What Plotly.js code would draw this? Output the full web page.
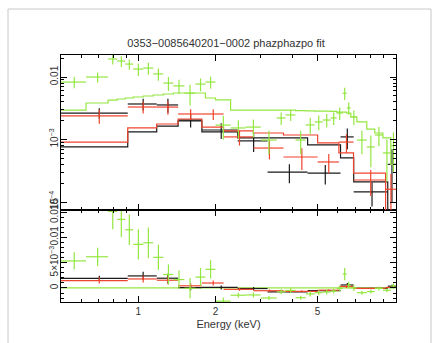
<!DOCTYPE html>
<html><head><meta charset="utf-8">
<script src="https://cdn.plot.ly/plotly-3.0.1.min.js"></script>
<style>html,body{margin:0;padding:0;background:#fff;}#chart{width:437px;height:343px;}</style>
</head><body><div id="chart"></div>
<script>
// ---- data (energy bin edges in keV, counts/s/keV) ----
const greenEdges = [0.5, 0.626, 0.763, 0.828, 0.89, 0.956, 1.046, 1.144, 1.252, 1.37, 1.513, 1.67, 1.827, 2.0, 2.29, 2.62, 3.0, 3.46, 3.75, 4.1, 4.49, 4.87, 5.23, 5.62, 5.93, 6.26, 6.49, 6.73, 7.11, 7.77, 8.35, 8.98, 9.64, 10.1];
const greenData = [0.0083, 0.0100, 0.0194, 0.0180, 0.0161, 0.0134, 0.0139, 0.0112, 0.0080, 0.0072, 0.0055, 0.0077, 0.0083, 0.0017, 0.00153, 0.00158, 0.00098, 0.00221, 0.00247, 0.00098, 0.00171, 0.00191, 0.00205, 0.00221, 0.00265, 0.0055, 0.0032, 0.0023, 0.00098, 0.00076, 0.00118, 0.00061, 0.0008];
const greenErr = [0.0017, 0.0018, 0.0035, 0.0035, 0.003, 0.003, 0.003, 0.0025, 0.002, 0.0018, 0.002, 0.0018, 0.0018, 0.0007, 0.0005, 0.0005, 0.0004, 0.0005, 0.0005, 0.0004, 0.0005, 0.0005, 0.0005, 0.0005, 0.0006, 0.0012, 0.0007, 0.0006, 0.0004, 0.0004, 0.0004, 0.0004, 0.0005];
const greenModel = [0.00296, 0.00384, 0.00428, 0.00445, 0.00461, 0.00479, 0.00497, 0.00515, 0.00535, 0.00555, 0.00555, 0.00555, 0.00461, 0.0043, 0.00296, 0.00296, 0.00296, 0.00296, 0.00296, 0.0029, 0.00288, 0.00285, 0.00285, 0.00282, 0.00275, 0.00275, 0.00265, 0.00229, 0.00191, 0.00147, 0.00127, 0.00106, 0.0004];

const blackEdges = [0.5, 0.91, 1.18, 1.43, 1.77, 2.44, 3.19, 4.57, 6.14, 6.91, 9.38, 10.1];
const blackData = [0.00265, 0.0037, 0.00357, 0.00205, 0.00142, 0.00095, 0.0003, 0.00029, 0.0011, 0.000145, 0.0004];
const blackErr = [0.0005, 0.0008, 0.0009, 0.0005, 0.0004, 0.00032, 0.0001, 0.0001, 0.0004, 0.00006, 0.0003];
const blackModel = [0.00076, 0.00132, 0.00164, 0.00198, 0.00132, 0.00106, 0.00106, 0.00082, 0.00051, 0.00021, 0.00005];

const redEdges = [0.5, 0.91, 1.18, 1.43, 1.77, 2.15, 2.81, 3.68, 5.0, 6.05, 6.9, 9.2, 10.1];
const redData = [0.00238, 0.00331, 0.0033, 0.00256, 0.00256, 0.0011, 0.00073, 0.000525, 0.000437, 0.00091, 0.000225, 0.00016];
const redErr = [0.0006, 0.0007, 0.0008, 0.0005, 0.0005, 0.0003, 0.00025, 0.0002, 0.00015, 0.0003, 0.0001, 0.00012];
const redModel = [0.00091, 0.00153, 0.00177, 0.00213, 0.00158, 0.00137, 0.00127, 0.00118, 0.00088, 0.00061, 0.00029, 0.00005];

const xTickVals = [1, 2, 5];
const xTickText = ['1', '2', '5'];
const xMinorVals = [0.6, 0.7, 0.8, 0.9, 3, 4, 6, 7, 8, 9];
const yTopTickVals = [1e-4, 1e-3, 1e-2];
const yTopTickText = ['10<sup>−4</sup>', '10<sup>−3</sup>', '0.01'];
const yTopMinor = [2e-4,3e-4,4e-4,5e-4,6e-4,7e-4,8e-4,9e-4,2e-3,3e-3,4e-3,5e-3,6e-3,7e-3,8e-3,9e-3,2e-2];
const yBotTickVals = [0, 0.005, 0.01, 0.015];
const yBotTickText = ['0', '5×10<sup>−3</sup>', '0.01', '0.015'];
const titleText = '0353−0085640201−0002 phazphazpo fit';

// ---- build traces ----
const COL = {black: '#1a1a1a', red: '#f0442e', green: '#94e640'};
const LW = 1.2;
function groupTraces(edges, data, err, model, color) {
  const lo = edges.slice(0, -1), hi = edges.slice(1);
  const c = lo.map((l, i) => (l + hi[i]) / 2);
  const ex = {type: 'data', symmetric: false, array: c.map((v, i) => hi[i] - v), arrayminus: c.map((v, i) => v - lo[i]), width: 0, thickness: LW, color: color};
  const ey = {type: 'data', array: err, width: 0, thickness: LW, color: color};
  const resid = data.map((d, i) => d - model[i]);
  return [
    {x: c, y: data, xaxis: 'x2', yaxis: 'y2', mode: 'markers', marker: {size: 1, color: color}, error_x: ex, error_y: ey, hoverinfo: 'skip'},
    {x: edges, y: model.concat([model[model.length - 1]]), xaxis: 'x2', yaxis: 'y2', mode: 'lines', line: {shape: 'hv', color: color, width: LW}, hoverinfo: 'skip'},
    {x: c, y: resid, xaxis: 'x', yaxis: 'y', mode: 'markers', marker: {size: 1, color: color}, error_x: ex, error_y: ey, hoverinfo: 'skip'}
  ];
}
const traces = [].concat(
  groupTraces(blackEdges, blackData, blackErr, blackModel, COL.black),
  groupTraces(redEdges, redData, redErr, redModel, COL.red),
  groupTraces(greenEdges, greenData, greenErr, greenModel, COL.green)
);

const FONT = 'Liberation Sans, Arial, Helvetica, sans-serif';
const botFrac = 92 / 247;
const xCommon = {
  type: 'log', range: [Math.log10(0.5), Math.log10(10.1)],
  tickmode: 'array', tickvals: xTickVals, ticktext: xTickText,
  ticks: 'inside', ticklen: 6, tickwidth: 1, tickcolor: '#000',
  showline: true, linecolor: '#000', linewidth: 1, mirror: 'ticks',
  showgrid: false, zeroline: false,
  minor: {tickmode: 'array', tickvals: xMinorVals, ticks: 'inside', ticklen: 3, tickwidth: 1, tickcolor: '#000', showgrid: false},
  tickfont: {size: 10, color: '#333', family: FONT}
};
const layout = {
  width: 437, height: 343,
  margin: {l: 61, r: 41, t: 55, b: 41, pad: 0},
  paper_bgcolor: '#fff', plot_bgcolor: '#fff',
  showlegend: false,
  font: {family: FONT, color: '#333'},
  title: {text: titleText, font: {size: 11, color: '#333', family: FONT}, x: 226 / 437, xanchor: 'center', y: 1 - 43 / 343, yanchor: 'middle', xref: 'container', yref: 'container'},
  xaxis: Object.assign({}, xCommon, {anchor: 'y', domain: [0, 1], title: {text: 'Energy (keV)', font: {size: 11, color: '#333', family: FONT}, standoff: 4}}),
  xaxis2: Object.assign({}, xCommon, {anchor: 'y2', domain: [0, 1], matches: 'x', showticklabels: false}),
  yaxis: {
    anchor: 'x', domain: [0, botFrac], range: [-0.00277, 0.0154],
    tickmode: 'array', tickvals: yBotTickVals, ticktext: yBotTickText, tickangle: -90,
    ticks: 'inside', ticklen: 6, tickwidth: 1, tickcolor: '#000', ticklabelstandoff: -2,
    showline: true, linecolor: '#000', linewidth: 1, mirror: 'ticks',
    showgrid: false, zeroline: false,
    minor: {tick0: 0, dtick: 0.001, ticks: 'inside', ticklen: 3, tickwidth: 1, tickcolor: '#000', showgrid: false},
    tickfont: {size: 10, color: '#333', family: FONT}
  },
  yaxis2: {
    anchor: 'x2', domain: [botFrac, 1], type: 'log', range: [-4.128, -1.648],
    tickmode: 'array', tickvals: yTopTickVals, ticktext: yTopTickText, tickangle: -90,
    ticks: 'inside', ticklen: 6, tickwidth: 1, tickcolor: '#000', ticklabelstandoff: -2,
    showline: true, linecolor: '#000', linewidth: 1, mirror: 'ticks',
    showgrid: false, zeroline: false,
    minor: {tickmode: 'array', tickvals: yTopMinor, ticks: 'inside', ticklen: 3, tickwidth: 1, tickcolor: '#000', showgrid: false},
    tickfont: {size: 10, color: '#333', family: FONT}
  },
  shapes: [
    {type: 'line', xref: 'x domain', x0: 0, x1: 1, yref: 'y', y0: 0, y1: 0, line: {color: COL.green, width: LW}, layer: 'below'},
    {type: 'rect', xref: 'paper', yref: 'paper', x0: -53 / 335, x1: 370 / 335, y0: -0.25, y1: 293 / 247, line: {color: '#c8c8c8', width: 1}, fillcolor: 'rgba(0,0,0,0)'}
  ]
};
Plotly.newPlot('chart', traces, layout, {staticPlot: true, displayModeBar: false});
</script></body></html>
